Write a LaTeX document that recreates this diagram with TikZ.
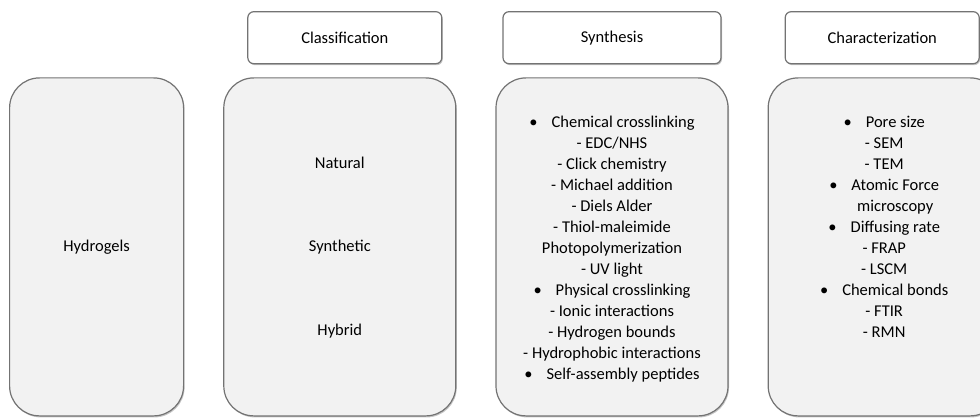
\documentclass[tikz,border=0pt]{standalone}
\usepackage{fontspec}
\setmainfont{Carlito}
\usetikzlibrary{positioning, shadows}

\newcommand{\itm}{\textbullet\hspace{14pt}}

\begin{document}
\begin{tikzpicture}[
    x=1pt, y=1pt,
    node distance=39pt,
    panel/.style={rectangle, draw=black!55, fill=black!5, line width=1.2pt, rounded corners=30pt, minimum width=232pt, minimum height=338pt, drop shadow={shadow xshift=1pt, shadow yshift=-1.5pt, opacity=0.45}},
    header/.style={rectangle, draw=black!55, fill=white, line width=1.2pt, rounded corners=6pt, minimum width=194pt, minimum height=52pt, font=\fontsize{16.5}{21}\selectfont, drop shadow={shadow xshift=1pt, shadow yshift=-1.5pt, opacity=0.45}},
    entry/.style={font=\fontsize{16.5}{21}\selectfont, align=center, inner sep=0pt},
]
\useasboundingbox (0,0) rectangle (980,418);

% four columns
\node[panel, minimum width=174pt, anchor=south west] (hydro) at (9,1.5) {};
\node[panel, right=39pt of hydro] (class) {};
\node[panel, right=39pt of class] (synth) {};
\node[panel, right=39pt of synth] (charac) {};

% column titles
\node[header, above=13pt of class, xshift=5pt] (classhd) {Classification};
\node[header, above=13pt of synth, minimum width=218pt] (synthhd) {Synthesis};
\node[header, above=13pt of charac, xshift=-2pt] (charhd) {Characterization};

\node[entry] (hydrotxt) at (hydro) {Hydrogels};

\node[entry] (natural) at ([yshift=84pt]class.center) {Natural};
\node[entry] (synthetic) at (class) {Synthetic};
\node[entry] (hybrid) at ([yshift=-84pt]class.center) {Hybrid};

\node[entry] (synthtxt) at ([yshift=-2.5pt]synth.center) {
    \itm Chemical crosslinking\\
    - EDC/NHS\\
    - Click chemistry\\
    - Michael addition\\
    - Diels Alder\\
    - Thiol-maleimide\\
    Photopolymerization\\
    - UV light\\
    \itm Physical crosslinking\\
    - Ionic interactions\\
    - Hydrogen bounds\\
    - Hydrophobic interactions\\
    \itm Self-assembly peptides
};

\node[entry, anchor=north] (chartxt) at (charac.center |- synthtxt.north) {
    \itm Pore size\\
    - SEM\\
    - TEM\\
    \itm Atomic Force\\
    \hspace*{22pt}microscopy\\
    \itm Diffusing rate\\
    - FRAP\\
    - LSCM\\
    \itm Chemical bonds\\
    - FTIR\\
    - RMN
};

\end{tikzpicture}
\end{document}
